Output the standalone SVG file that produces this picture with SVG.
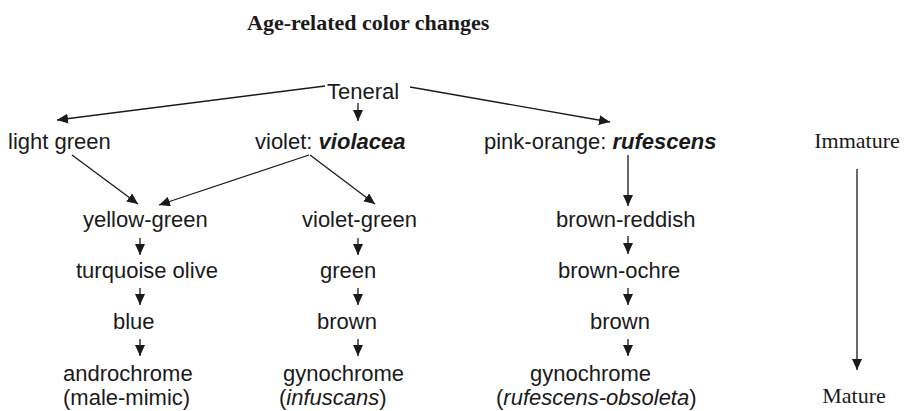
<svg xmlns="http://www.w3.org/2000/svg" width="906" height="411" viewBox="0 0 906 411">
  <style>
    text { font-family: "Liberation Sans", Arial, sans-serif; font-size: 22px; fill: #1a1a1a; }
    .serif { font-family: "Liberation Serif", "Times New Roman", serif; }
    .title { font-weight: bold; }
    .bi { font-weight: bold; font-style: italic; }
    .it { font-style: italic; }
    .mid { text-anchor: middle; }
    .edge { stroke: #1a1a1a; stroke-width: 1.3; fill: none; marker-end: url(#arrow); }
  </style>
  <defs>
    <marker id="arrow" markerUnits="userSpaceOnUse" markerWidth="11" markerHeight="10" refX="11" refY="5" orient="auto">
      <path d="M0,0 L11,5 L0,10 z" fill="#1a1a1a"/>
    </marker>
  </defs>
  <rect width="906" height="411" fill="#ffffff"/>

  <text class="serif title" x="247" y="30">Age-related color changes</text>

  <g id="connectors">
    <line class="edge" x1="325" y1="86" x2="57" y2="120"/>
    <line class="edge" x1="358" y1="103" x2="358" y2="121"/>
    <line class="edge" x1="410" y1="87" x2="610" y2="122"/>
    <line class="edge" x1="72" y1="155" x2="138" y2="204"/>
    <line class="edge" x1="309" y1="155" x2="159" y2="205"/>
    <line class="edge" x1="310" y1="155" x2="375" y2="204"/>
    <line class="edge" x1="628" y1="155" x2="628" y2="206"/>
    <line class="edge" x1="140" y1="238" x2="140" y2="255"/>
    <line class="edge" x1="140" y1="288" x2="140" y2="305"/>
    <line class="edge" x1="140" y1="339" x2="140" y2="356"/>
    <line class="edge" x1="358" y1="238" x2="358" y2="255"/>
    <line class="edge" x1="358" y1="288" x2="358" y2="305"/>
    <line class="edge" x1="358" y1="339" x2="358" y2="356"/>
    <line class="edge" x1="628" y1="236" x2="628" y2="254"/>
    <line class="edge" x1="628" y1="288" x2="628" y2="305"/>
    <line class="edge" x1="628" y1="339" x2="628" y2="356"/>
    <line class="edge" x1="857" y1="169" x2="857" y2="370"/>
  </g>

  <g id="teneral"><text x="327" y="99">Teneral</text></g>
  <g id="light-green"><text x="8" y="149">light green</text></g>
  <g id="violet"><text x="255" y="149">violet: <tspan class="bi">violacea</tspan></text></g>
  <g id="pink-orange"><text x="484" y="149">pink-orange: <tspan class="bi">rufescens</tspan></text></g>
  <g id="immature"><text class="serif mid" x="857" y="148">Immature</text></g>

  <g id="yellow-green"><text x="83" y="227">yellow-green</text></g>
  <g id="turquoise-olive"><text x="76" y="278">turquoise olive</text></g>
  <g id="blue"><text x="113" y="329">blue</text></g>
  <g id="androchrome"><text x="63" y="381">androchrome</text><text x="63" y="405">(male-mimic)</text></g>

  <g id="violet-green"><text x="302" y="227">violet-green</text></g>
  <g id="green"><text x="320" y="278">green</text></g>
  <g id="brown-2"><text x="317" y="329">brown</text></g>
  <g id="gynochrome-infuscans"><text x="283" y="381">gynochrome</text><text x="279" y="405">(<tspan class="it">infuscans</tspan>)</text></g>

  <g id="brown-reddish"><text x="556" y="227">brown-reddish</text></g>
  <g id="brown-ochre"><text x="558" y="278">brown-ochre</text></g>
  <g id="brown-3"><text x="590" y="329">brown</text></g>
  <g id="gynochrome-rufescens"><text x="530" y="381">gynochrome</text><text x="496" y="405">(<tspan class="it">rufescens-obsoleta</tspan>)</text></g>

  <g id="mature"><text class="serif mid" x="854" y="403">Mature</text></g>
</svg>
